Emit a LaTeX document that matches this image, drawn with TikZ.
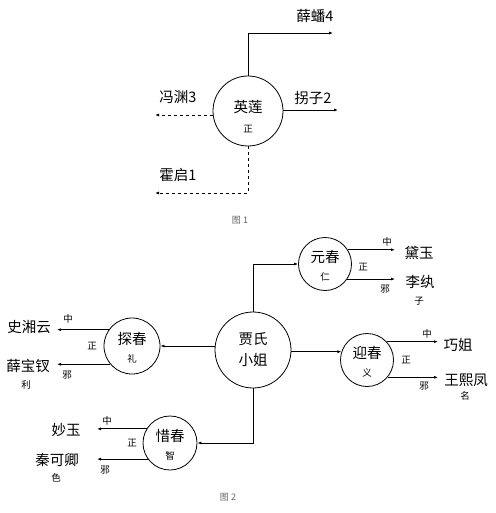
\documentclass[tikz,border=0pt]{standalone}
\usepackage{fontspec}
\usepackage{xcolor}
\usetikzlibrary{arrows.meta,positioning}
\newfontfamily\cjk{Noto Sans CJK SC}

\begin{document}
\begin{tikzpicture}[
    x=1pt, y=-1pt,
    line width=0.8pt,
    person/.style={circle, draw, inner sep=0pt},
    who/.style={font=\cjk\fontsize{14.5}{21}\selectfont, inner sep=1pt},
    virtue/.style={font=\cjk\fontsize{9.5}{10}\selectfont, inner sep=0.5pt},
    figcap/.style={font=\cjk\fontsize{9}{10}\selectfont, text=black!60},
    arrow/.style={-{Latex[length=4pt,width=3pt]}},
    dasharrow/.style={arrow, dashed}
]
    \useasboundingbox (0,0) rectangle (495,513);

    % figure 1
    \node[person, minimum size=70pt] (yinglian) at (248,111) {};
    \node[who] at (248,107) {英莲};
    \node[virtue] at (248,129) {正};

    \node[who] (xuepan) at (315,16) {薛蟠4};
    \node[who] (guaizi) at (313,98) {拐子2};
    \node[who] (fengyuan) at (178,97) {冯渊3};
    \node[who] (huoqi) at (178,175) {霍启1};

    \coordinate (p4) at (333,33);
    \coordinate (p2) at (338,110);
    \coordinate (p3) at (155,115);
    \coordinate (p1) at (155,193);

    \draw[arrow] (yinglian.north) |- (p4);
    \draw[arrow] (yinglian.east |- p2) -- (p2);
    \draw[dasharrow] (yinglian.west |- p3) -- (p3);
    \draw[dasharrow] (yinglian.south) |- (p1);

    \node[figcap] (fig1) at (240,220) {图 1};

    % figure 2
    \node[person, minimum size=76pt, align=center, who] (jia) at (253,350) {贾氏\\小姐};

    \node[person, minimum size=53pt] (yuanchun) at (325,264) {};
    \node[who] at (325,257) {元春};
    \node[virtue] at (325,277) {仁};

    \node[person, minimum size=53pt] (yingchun) at (367,360) {};
    \node[who] at (367,353) {迎春};
    \node[virtue] at (367,373) {义};

    \node[person, minimum size=56pt] (tanchun) at (132,346) {};
    \node[who] at (132,339) {探春};
    \node[virtue] at (132,359) {礼};

    \node[person, minimum size=54pt] (xichun) at (170,443) {};
    \node[who] at (170,436) {惜春};
    \node[virtue] at (170,456) {智};

    \draw[arrow] (jia.north) |- (yuanchun.west);
    \draw[arrow] (yingchun.162 -| jia.east) -- (yingchun.162);
    \draw[arrow] (jia.west |- tanchun.east) -- (tanchun.east);
    \draw[arrow] (jia.south) |- (xichun.east);

    % yuanchun
    \node[who] (daiyu) at (419,253) {黛玉};
    \node[who] (liwan) at (420,282) {李纨};
    \node[virtue] at (419,301) {子};
    \coordinate (y1) at (395,250);
    \coordinate (y2) at (395,279);
    \draw[arrow] (yuanchun.32) -- (yuanchun.32 -| y1);
    \draw[arrow] (yuanchun.-34) -- (yuanchun.-34 -| y2);
    \node[virtue] at (387,242) {中};
    \node[virtue] at (363,267) {正};
    \node[virtue] at (385,289) {邪};

    % yingchun
    \node[who] (qiaojie) at (458,345) {巧姐};
    \node[who] (wangxifeng) at (466,380) {王熙凤};
    \node[virtue] at (465,396) {名};
    \coordinate (g1) at (438,342);
    \coordinate (g2) at (438,377);
    \draw[arrow] (yingchun.43) -- (yingchun.43 -| g1);
    \draw[arrow] (yingchun.-40) -- (yingchun.-40 -| g2);
    \node[virtue] at (427,334) {中};
    \node[virtue] at (406,360) {正};
    \node[virtue] at (424,386) {邪};

    % tanchun
    \node[who] (shixiangyun) at (29,327) {史湘云};
    \node[who] (xuebaochai) at (28,366) {薛宝钗};
    \node[virtue] at (26,385) {利};
    \coordinate (t1) at (57,330);
    \coordinate (t2) at (57,364);
    \draw[arrow] (tanchun.145) -- (tanchun.145 -| t1);
    \draw[arrow] (tanchun.220) -- (tanchun.220 -| t2);
    \node[virtue] at (68,319) {中};
    \node[virtue] at (92,346) {正};
    \node[virtue] at (67,375) {邪};

    % xichun
    \node[who] (miaoyu) at (66,430) {妙玉};
    \node[who] (qinkeqing) at (57,460) {秦可卿};
    \node[virtue] at (56,478) {色};
    \coordinate (x1) at (97,429);
    \coordinate (x2) at (97,459);
    \draw[arrow] (xichun.149) -- (xichun.149 -| x1);
    \draw[arrow] (xichun.216) -- (xichun.216 -| x2);
    \node[virtue] at (107,421) {中};
    \node[virtue] at (132,443) {正};
    \node[virtue] at (105,470) {邪};

    \node[figcap] (fig2) at (228,497) {图 2};

\end{tikzpicture}
\end{document}
